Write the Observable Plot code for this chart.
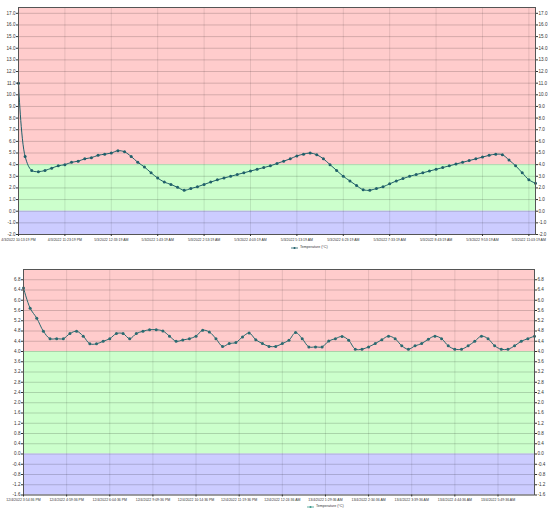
<!DOCTYPE html>
<html><head><meta charset="utf-8">
<script src="https://cdn.jsdelivr.net/npm/d3@7"></script>
<script src="https://cdn.jsdelivr.net/npm/@observablehq/plot@0.6"></script>
<style>
body{margin:0;background:#fff;font-family:"Liberation Sans",Arial,sans-serif;}
#wrap{position:relative;width:550px;height:515px;overflow:hidden}
.chart{position:absolute;left:0}
.legend{position:absolute;font-size:3.6px;color:#333;display:flex;align-items:center;white-space:nowrap;line-height:1}
.legend svg{margin-right:2px}
</style></head><body><div id="wrap"></div>
<script>
// ---- Chart 1 data ----
const temp1 = [11.0, 4.7, 3.5, 3.4, 3.5, 3.7, 3.9, 4.0, 4.2, 4.3, 4.5, 4.6, 4.8, 4.9, 5.0, 5.2, 5.1, 4.7, 4.2,
  3.8, 3.3, 2.85, 2.5, 2.3, 2.05, 1.8,
  1.95, 2.1, 2.3, 2.5, 2.7, 2.85, 3.0, 3.15, 3.3, 3.45, 3.6, 3.75, 3.9, 4.1, 4.3, 4.5, 4.75, 4.9,
  5.0, 4.85, 4.5, 4.0, 3.5, 3.0, 2.6, 2.2, 1.85,
  1.8, 1.95, 2.1, 2.35, 2.6, 2.8, 3.0, 3.15, 3.3, 3.45, 3.6, 3.75, 3.9, 4.05, 4.2, 4.35, 4.5, 4.65, 4.8,
  4.9, 4.85, 4.4, 3.9, 3.3, 2.7, 2.4];
const xLabels1 = ["4/3/2022 10:13:19 PM", "4/3/2022 11:23:19 PM", "5/3/2022 12:33:19 AM", "5/3/2022 1:43:19 AM",
  "5/3/2022 2:53:19 AM", "5/3/2022 4:03:19 AM", "5/3/2022 5:13:19 AM", "5/3/2022 6:23:19 AM",
  "5/3/2022 7:33:19 AM", "5/3/2022 8:43:19 AM", "5/3/2022 9:53:19 AM", "5/3/2022 11:03:19 AM"];
const xTickIdx1 = [0, 7, 14, 21, 28, 35, 42, 49, 56, 63, 70, 77];
const yTicks1 = [-2, -1, 0, 1, 2, 3, 4, 5, 6, 7, 8, 9, 10, 11, 12, 13, 14, 15, 16, 17];
const yDomain1 = [-2, 17.5];
const bandLo1 = [4, 0, -2];
const bandHi1 = [17.5, 4, 0];

// ---- Chart 2 data ----
const temp2 = [6.48, 5.69, 5.3, 4.79, 4.5, 4.5, 4.5, 4.7, 4.79, 4.6, 4.3, 4.3, 4.4, 4.5, 4.7, 4.7, 4.5, 4.7, 4.79,
  4.85, 4.85, 4.8, 4.6, 4.4, 4.45, 4.5, 4.6,
  4.83, 4.76, 4.5, 4.2, 4.31, 4.35, 4.57, 4.72, 4.46, 4.31, 4.2, 4.2, 4.31, 4.44, 4.74, 4.5, 4.18, 4.18, 4.18,
  4.41, 4.5, 4.59, 4.44, 4.09, 4.09, 4.18, 4.31, 4.46,
  4.6, 4.5, 4.22, 4.09,
  4.22, 4.31, 4.48, 4.6, 4.5, 4.22, 4.09, 4.09, 4.22, 4.4, 4.6, 4.5, 4.22, 4.09, 4.09, 4.22, 4.4, 4.5, 4.6];
const xLabels2 = ["12/4/2022 3:54:36 PM", "12/4/2022 4:59:36 PM", "12/4/2022 6:04:36 PM", "12/4/2022 9:09:36 PM",
  "12/4/2022 10:14:36 PM", "12/4/2022 11:19:36 PM", "12/4/2022 12:24:36 AM", "13/4/2022 1:29:36 AM",
  "13/4/2022 2:34:36 AM", "13/4/2022 3:39:36 AM", "13/4/2022 4:44:36 AM", "13/4/2022 5:49:36 AM"];
const xTickIdx2 = [0, 6.5, 13, 19.5, 26, 32.5, 39, 45.5, 52, 58.5, 65, 71.5];
const yTicks2 = [-1.6, -1.2, -0.8, -0.4, 0, 0.4, 0.8, 1.2, 1.6, 2.0, 2.4, 2.8, 3.2, 3.6, 4.0, 4.4, 4.8, 5.2, 5.6, 6.0, 6.4, 6.8];
const yDomain2 = [-1.6, 7.2];
const bandLo2 = [4, 0, -1.6];
const bandHi2 = [7.2, 4, 0];

const bandColors = ["#ffcccc", "#ccffcc", "#ccccff"];
const seriesName = "Temperature (°C)";
const lineColor1 = "#20606a";
const lineColor2 = "#2a6a70";

function makeChart({temp, xLabels, xTicks, yTicks, yDomain, lo, hi, color, height, mLeft, mRight, mTop, mBottom}) {
  const series = temp.map((v, i) => ({i, v}));
  const bands = lo.map((l, k) => ({lo: l, hi: hi[k], color: bandColors[k]}));
  const labelMap = new Map(xTicks.map((t, k) => [t, xLabels[k]]));
  return Plot.plot({
    width: 550, height,
    marginLeft: mLeft, marginRight: mRight, marginTop: mTop, marginBottom: mBottom,
    x: {domain: [0, temp.length - 1]},
    y: {domain: yDomain},
    style: {fontFamily: "Liberation Sans, Arial, sans-serif", color: "#333", background: "transparent", overflow: "visible"},
    marks: [
      Plot.rect(bands, {y1: "lo", y2: "hi", fill: "color"}),
      Plot.gridY(yTicks, {stroke: "#000", strokeOpacity: 0.17}),
      Plot.gridX(xTicks, {stroke: "#000", strokeOpacity: 0.1}),
      Plot.line(series, {x: "i", y: "v", curve: "catmull-rom", stroke: color, strokeWidth: 1}),
      Plot.dot(series, {x: "i", y: "v", r: 1.5, fill: color, stroke: "none"}),
      Plot.frame({stroke: "#555", strokeWidth: 1}),
      Plot.axisY(yTicks, {anchor: "left", tickSize: 2, tickPadding: 1, tickFormat: d => d.toFixed(1), fontSize: 4.6, label: null}),
      Plot.axisY(yTicks, {anchor: "right", tickSize: 2, tickPadding: 1, tickFormat: d => d.toFixed(1), fontSize: 4.6, label: null}),
      Plot.axisX(xTicks, {anchor: "bottom", tickSize: 2, tickPadding: 1.5, tickFormat: d => labelMap.get(d), fontSize: 3.5, label: null})
    ]
  });
}

function makeLegend(color, left, top) {
  const div = document.createElement("div");
  div.className = "legend";
  div.style.left = left + "px";
  div.style.top = top + "px";
  div.innerHTML = `<svg width="7" height="4"><line x1="0" y1="2" x2="7" y2="2" stroke="${color}" stroke-width="0.8"/><circle cx="3.5" cy="2" r="1" fill="${color}"/></svg><span>${seriesName}</span>`;
  return div;
}

const wrap = document.getElementById("wrap");
const c1 = makeChart({temp: temp1, xLabels: xLabels1, xTicks: xTickIdx1, yTicks: yTicks1, yDomain: yDomain1,
  lo: bandLo1, hi: bandHi1, color: lineColor1, height: 244, mLeft: 18, mRight: 15, mTop: 7, mBottom: 10});
c1.classList.add("chart"); c1.style.top = "0px";
wrap.appendChild(c1);
wrap.appendChild(makeLegend(lineColor1, 291, 246));

const c2 = makeChart({temp: temp2, xLabels: xLabels2, xTicks: xTickIdx2, yTicks: yTicks2, yDomain: yDomain2,
  lo: bandLo2, hi: bandHi2, color: lineColor2, height: 243, mLeft: 23, mRight: 16, mTop: 7, mBottom: 10.5});
c2.classList.add("chart"); c2.style.top = "262px";
wrap.appendChild(c2);
wrap.appendChild(makeLegend("#3a9a8a", 307, 505));
</script></body></html>
